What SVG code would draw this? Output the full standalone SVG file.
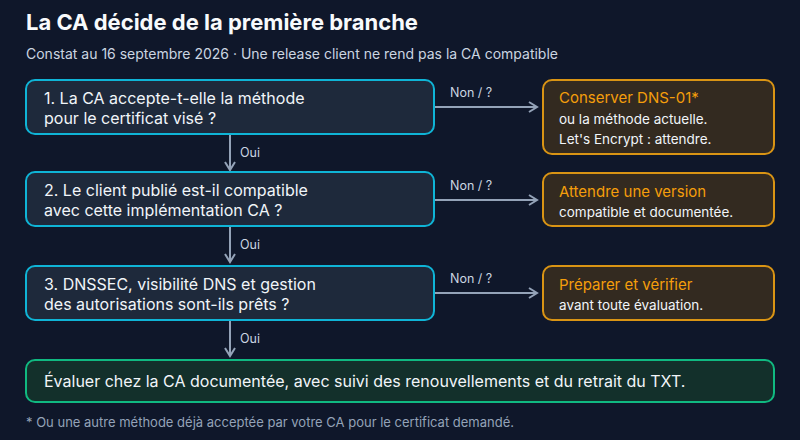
<svg xmlns="http://www.w3.org/2000/svg" width="800" height="440" viewBox="0 0 800 440">
<style>
text{font-family:Inter,"Noto Sans","Liberation Sans",sans-serif}
.q{fill:#1e293b;stroke:#0fb4d6;stroke-width:2}
.o{fill:#332a20;stroke:#d99414;stroke-width:2}
.qt{fill:#f1f5f9;font-size:16px}
.ot{fill:#f59e0b;font-size:15px}
.ob{fill:#f1f5f9;font-size:13.5px}
.lbl{fill:#cbd5e1;font-size:12.5px}
.c{stroke:#94a3b8;stroke-width:2;fill:none;marker-end:url(#a)}
</style>
<defs><marker id="a" markerWidth="12" markerHeight="12" refX="10" refY="6" orient="auto" markerUnits="userSpaceOnUse"><path d="M2,1 L10,6 L2,11" fill="none" stroke="#94a3b8" stroke-width="2"/></marker></defs>
<rect width="800" height="440" fill="#0f172a"/>
<text x="26" y="30" font-size="22" font-weight="bold" fill="#f8fafc">La CA décide de la première branche</text>
<text x="26" y="59" font-size="14" fill="#cbd5e1">Constat au 16 septembre 2026 · Une release client ne rend pas la CA compatible</text>
<g id="connectors">
<path class="c" d="M230,134 V170"/><text class="lbl" x="240" y="157">Oui</text>
<path class="c" d="M230,226 V262"/><text class="lbl" x="240" y="249">Oui</text>
<path class="c" d="M230,320 V356"/><text class="lbl" x="240" y="343">Oui</text>
<path class="c" d="M434,107 H537"/><text class="lbl" x="450" y="97">Non / ?</text>
<path class="c" d="M434,200 H537"/><text class="lbl" x="450" y="190">Non / ?</text>
<path class="c" d="M434,293 H537"/><text class="lbl" x="450" y="283">Non / ?</text>
</g>
<g id="q1"><rect class="q" x="26" y="80" width="408" height="54" rx="9"/><text class="qt" x="44" y="104">1. La CA accepte-t-elle la méthode</text><text class="qt" x="44" y="124">pour le certificat visé ?</text></g>
<g id="q2"><rect class="q" x="26" y="172" width="408" height="54" rx="9"/><text class="qt" x="44" y="196">2. Le client publié est-il compatible</text><text class="qt" x="44" y="216">avec cette implémentation CA ?</text></g>
<g id="q3"><rect class="q" x="26" y="266" width="408" height="54" rx="9"/><text class="qt" x="44" y="290">3. DNSSEC, visibilité DNS et gestion</text><text class="qt" x="44" y="310">des autorisations sont-ils prêts ?</text></g>
<g id="o1"><rect class="o" x="543" y="80" width="231" height="74" rx="9"/><text class="ot" x="559" y="103">Conserver DNS-01*</text><text class="ob" x="559" y="124">ou la méthode actuelle.</text><text class="ob" x="559" y="144" font-size="12.5">Let's Encrypt : attendre.</text></g>
<g id="o2"><rect class="o" x="543" y="173" width="231" height="53" rx="9"/><text class="ot" x="559" y="197">Attendre une version</text><text class="ob" x="559" y="217">compatible et documentée.</text></g>
<g id="o3"><rect class="o" x="543" y="266" width="231" height="54" rx="9"/><text class="ot" x="559" y="290">Préparer et vérifier</text><text class="ob" x="559" y="310">avant toute évaluation.</text></g>
<g id="final"><rect x="26" y="360" width="748" height="42" rx="9" fill="#13302b" stroke="#10b981" stroke-width="2"/><text class="qt" x="44" y="387">Évaluer chez la CA documentée, avec suivi des renouvellements et du retrait du TXT.</text></g>
<text x="26" y="427" font-size="13" fill="#94a3b8">* Ou une autre méthode déjà acceptée par votre CA pour le certificat demandé.</text>
</svg>
